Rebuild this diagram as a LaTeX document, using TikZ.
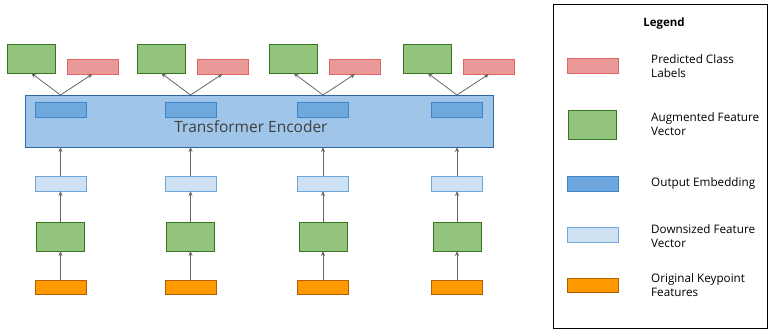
\documentclass[tikz,border=0pt]{standalone}
\usepackage{fontspec}
\setmainfont{Open Sans}
\usetikzlibrary{arrows.meta}
\definecolor{gfill}{HTML}{93C47D}\definecolor{gdraw}{HTML}{38761D}
\definecolor{rfill}{HTML}{EA9999}\definecolor{rdraw}{HTML}{E06666}
\definecolor{bfill}{HTML}{6FA8DC}\definecolor{bdraw}{HTML}{3D85C6}
\definecolor{lfill}{HTML}{CFE2F3}\definecolor{ldraw}{HTML}{6FA8DC}
\definecolor{ofill}{HTML}{FF9900}\definecolor{odraw}{HTML}{B45F06}
\definecolor{efill}{HTML}{9FC5E8}\definecolor{edraw}{HTML}{2F67A6}
\definecolor{arr}{HTML}{666666}
\begin{document}
\begin{tikzpicture}[x=1pt,y=-1pt,
  box/.style={inner sep=0pt, outer sep=0pt, line width=0.9pt},
  greenbox/.style={box, fill=gfill, draw=gdraw, minimum width=48pt, minimum height=29pt},
  redbox/.style={box, fill=rfill, draw=rdraw, minimum width=51pt, minimum height=15pt},
  embbox/.style={box, fill=bfill, draw=bdraw, minimum width=51pt, minimum height=15pt},
  downbox/.style={box, fill=lfill, draw=ldraw, minimum width=51pt, minimum height=15pt},
  origbox/.style={box, fill=ofill, draw=odraw, minimum width=51pt, minimum height=14pt},
  flow/.style={draw=arr, line width=0.8pt, -{Stealth[length=5pt,width=4pt]}},
  legtext/.style={anchor=west, align=left, font=\fontsize{11.7}{14}\selectfont, text=black, inner sep=0pt},
]
\useasboundingbox (0,0) rectangle (768,329);
% encoder
\node[box, fill=efill, draw=edraw, minimum width=468pt, minimum height=52pt] (enc) at (259,121) {};
\node[inner sep=0pt, text=black!75, font=\fontsize{15.5}{18}\selectfont] (enctext) at (251,127) {Transformer Encoder};
\foreach \i/\c in {1/60.5,2/190.5,3/323,4/457}{
  \node[embbox] (e\i) at (\c,109.5) {};
  \node[downbox] (d\i) at (\c,183.5) {};
  \node[greenbox] (a\i) at (\c,236.5) {};
  \node[origbox] (o\i) at (\c,287) {};
  \node[greenbox] (g\i) at (\c-29.5,58.5) {};
  \node[redbox] (r\i) at (\c+32,66.5) {};
  \coordinate (t\i) at (enc.north -| e\i);
  \draw[flow] (o\i) -- (a\i);
  \draw[flow] (a\i) -- (d\i);
  \draw[flow] (d\i) -- (enc.south -| d\i);
  \draw[flow] (t\i) -- (g\i.south);
  \draw[flow] (t\i) -- (r\i.south);
}
% legend
\node[draw=black, line width=0.8pt, minimum width=214pt, minimum height=324pt, inner sep=0pt] (leg) at (660,166) {};
\node[font=\fontsize{11.5}{13}\selectfont\bfseries, inner sep=0pt] (legt) at (664,24) {Legend};
\node[redbox] (lr) at (592.5,66) {};
\node[greenbox] (lg) at (592.5,124.5) {};
\node[embbox] (lb) at (592.5,183.5) {};
\node[downbox] (ld) at (592.5,234.5) {};
\node[origbox] (lo) at (592.5,285.5) {};
\node[legtext] (tr) at (651,66) {Predicted Class\\Labels};
\node[legtext] (tg) at (651,124.5) {Augmented Feature\\Vector};
\node[legtext] (tb) at (651,183.5) {Output Embedding};
\node[legtext] (td) at (651,236) {Downsized Feature\\Vector};
\node[legtext] (to) at (651,285.5) {Original Keypoint\\Features};
\end{tikzpicture}
\end{document}
